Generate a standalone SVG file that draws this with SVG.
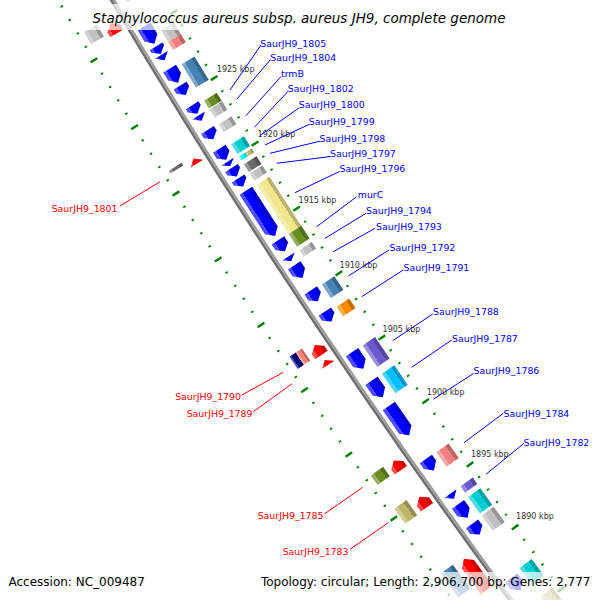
<svg xmlns="http://www.w3.org/2000/svg" width="600" height="600" viewBox="0 0 600 600">
<defs>
<linearGradient id="gBlue" x1="0" y1="0" x2="1" y2="0"><stop offset=".25" stop-color="#0000c7"/><stop offset=".25" stop-color="#0000ff"/><stop offset=".75" stop-color="#0000ff"/><stop offset=".75" stop-color="#4d4dff"/></linearGradient>
<linearGradient id="gRed" x1="0" y1="0" x2="1" y2="0"><stop offset=".25" stop-color="#c70000"/><stop offset=".25" stop-color="#ff0000"/><stop offset=".75" stop-color="#ff0000"/><stop offset=".75" stop-color="#ff4d4d"/></linearGradient>
<linearGradient id="gSilver" x1="0" y1="0" x2="1" y2="0"><stop offset=".25" stop-color="#969696"/><stop offset=".25" stop-color="#c0c0c0"/><stop offset=".75" stop-color="#c0c0c0"/><stop offset=".75" stop-color="#d3d3d3"/></linearGradient>
<linearGradient id="gDim" x1="0" y1="0" x2="1" y2="0"><stop offset=".25" stop-color="#525252"/><stop offset=".25" stop-color="#696969"/><stop offset=".75" stop-color="#696969"/><stop offset=".75" stop-color="#969696"/></linearGradient>
<linearGradient id="gSteel" x1="0" y1="0" x2="1" y2="0"><stop offset=".25" stop-color="#37658c"/><stop offset=".25" stop-color="#4682b4"/><stop offset=".75" stop-color="#4682b4"/><stop offset=".75" stop-color="#7ea8cb"/></linearGradient>
<linearGradient id="gOlive" x1="0" y1="0" x2="1" y2="0"><stop offset=".25" stop-color="#536f1b"/><stop offset=".25" stop-color="#6b8e23"/><stop offset=".75" stop-color="#6b8e23"/><stop offset=".75" stop-color="#97b065"/></linearGradient>
<linearGradient id="gCoral" x1="0" y1="0" x2="1" y2="0"><stop offset=".25" stop-color="#bb6464"/><stop offset=".25" stop-color="#f08080"/><stop offset=".75" stop-color="#f08080"/><stop offset=".75" stop-color="#f5a6a6"/></linearGradient>
<linearGradient id="gTurq" x1="0" y1="0" x2="1" y2="0"><stop offset=".25" stop-color="#00a1a3"/><stop offset=".25" stop-color="#00ced1"/><stop offset=".75" stop-color="#00ced1"/><stop offset=".75" stop-color="#4ddddf"/></linearGradient>
<linearGradient id="gCyan" x1="0" y1="0" x2="1" y2="0"><stop offset=".25" stop-color="#00c7c7"/><stop offset=".25" stop-color="#00ffff"/><stop offset=".75" stop-color="#00ffff"/><stop offset=".75" stop-color="#4dffff"/></linearGradient>
<linearGradient id="gKhaki" x1="0" y1="0" x2="1" y2="0"><stop offset=".25" stop-color="#bbb36d"/><stop offset=".25" stop-color="#f0e68c"/><stop offset=".75" stop-color="#f0e68c"/><stop offset=".75" stop-color="#f5eeaf"/></linearGradient>
<linearGradient id="gDkhaki" x1="0" y1="0" x2="1" y2="0"><stop offset=".25" stop-color="#938f53"/><stop offset=".25" stop-color="#bdb76b"/><stop offset=".75" stop-color="#bdb76b"/><stop offset=".75" stop-color="#d1cd97"/></linearGradient>
<linearGradient id="gOrange" x1="0" y1="0" x2="1" y2="0"><stop offset=".25" stop-color="#c76d00"/><stop offset=".25" stop-color="#ff8c00"/><stop offset=".75" stop-color="#ff8c00"/><stop offset=".75" stop-color="#ffaf4d"/></linearGradient>
<linearGradient id="gSlate" x1="0" y1="0" x2="1" y2="0"><stop offset=".25" stop-color="#5346a0"/><stop offset=".25" stop-color="#6a5acd"/><stop offset=".75" stop-color="#6a5acd"/><stop offset=".75" stop-color="#978cdc"/></linearGradient>
<linearGradient id="gSky" x1="0" y1="0" x2="1" y2="0"><stop offset=".25" stop-color="#0095c7"/><stop offset=".25" stop-color="#00bfff"/><stop offset=".75" stop-color="#00bfff"/><stop offset=".75" stop-color="#4dd2ff"/></linearGradient>
<linearGradient id="gNavy" x1="0" y1="0" x2="1" y2="0"><stop offset=".25" stop-color="#000064"/><stop offset=".25" stop-color="#000080"/><stop offset=".75" stop-color="#000080"/><stop offset=".75" stop-color="#4d4da6"/></linearGradient>
<linearGradient id="gSalmon" x1="0" y1="0" x2="1" y2="0"><stop offset=".25" stop-color="#c36459"/><stop offset=".25" stop-color="#fa8072"/><stop offset=".75" stop-color="#fa8072"/><stop offset=".75" stop-color="#fca69c"/></linearGradient>
</defs>
<style>
.blue{fill:url(#gBlue)} .red{fill:url(#gRed)} .silver{fill:url(#gSilver)} .dim{fill:url(#gDim)}
.steel{fill:url(#gSteel)} .olive{fill:url(#gOlive)} .coral{fill:url(#gCoral)} .turq{fill:url(#gTurq)}
.cyan{fill:url(#gCyan)} .khaki{fill:url(#gKhaki)} .dkhaki{fill:url(#gDkhaki)} .orange{fill:url(#gOrange)}
.slate{fill:url(#gSlate)} .sky{fill:url(#gSky)} .navy{fill:url(#gNavy)} .salmon{fill:url(#gSalmon)}
.tick{fill:none;stroke:#008000}
.tk{font-family:"DejaVu Sans",sans-serif;font-size:8px;fill:#333}
.lb{font-family:"DejaVu Sans",sans-serif;font-size:9.4px;fill:#0000ff}
.lr{font-family:"DejaVu Sans",sans-serif;font-size:9.4px;fill:#ff0000;text-anchor:end}
.cb{stroke:#0000ff;stroke-width:1;fill:none}
.cr{stroke:#ff0000;stroke-width:1;fill:none}
.veil{fill:#ffffff;fill-opacity:0.7}
.title{font-family:"DejaVu Sans",sans-serif;font-style:italic;font-size:13.5px;fill:#000;text-anchor:middle}
.foot{font-family:"DejaVu Sans",sans-serif;font-size:12px;fill:#000}
</style>
<rect x="0" y="0" width="600" height="600" fill="#ffffff"/>

<g id="backbone">
<circle cx="6297.6" cy="-3674.1" r="7195.3" fill="none" stroke="#6f6f6f" stroke-width="2.6"/>
<circle cx="6297.6" cy="-3674.1" r="7192.8" fill="none" stroke="#9c9c9c" stroke-width="2.4"/>
</g>

<g id="ruler">
<path class="tick" d="M607.27,651.14 A7147.5,7147.5 0 0 1 95.72,-121.18" stroke-width="2.6" stroke-dasharray="1.8 13.6502" stroke-dashoffset="0.9"/>
<path class="tick" d="M607.27,651.14 A7147.5,7147.5 0 0 1 95.72,-121.18" stroke-width="8" stroke-dasharray="2.4 74.851" stroke-dashoffset="1.2"/>
<path class="tick" d="M532.84,707.72 A7241,7241 0 0 1 14.58,-74.70" stroke-width="2.6" stroke-dasharray="1.8 13.8523" stroke-dashoffset="0.9"/>
<path class="tick" d="M532.84,707.72 A7241,7241 0 0 1 14.58,-74.70" stroke-width="8" stroke-dasharray="2.4 75.8615" stroke-dashoffset="1.2"/>
</g>

<g id="features" transform="translate(6297.6 -3674.1)">
<g id="RA1" transform="rotate(149.3721) translate(7180.5 0)"><polygon class="blue" points="-7.5,19 7.5,19 7.5,-12 0,-19 -7.5,-12"/></g>
<g id="RA2" transform="rotate(148.8984) translate(7180.5 0)"><polygon class="blue" points="-7.5,10.1 7.5,10.1 7.5,-3.1 0,-10.1 -7.5,-3.1"/></g>
<g id="RA3" transform="rotate(148.7572) translate(7180.5 0)"><polygon class="blue" points="-7.5,4.5 7.5,4.5 7.5,1.5 0,-4.5 -7.5,1.5"/></g>
<g id="RA4" transform="rotate(148.6878) translate(7180.5 0)"><polygon class="blue" points="-7.5,3.1 7.5,3.1 0,-3.1"/></g>
<g id="RA5" transform="rotate(148.5194) translate(7180.5 0)"><polygon class="blue" points="-7.5,8.25 7.5,8.25 7.5,-1.25 0,-8.25 -7.5,-1.25"/></g>
<g id="RA6" transform="rotate(148.3819) translate(7180.5 0)"><polygon class="blue" points="-7.5,5.5 7.5,5.5 7.5,0.5 0,-5.5 -7.5,0.5"/></g>
<g id="RA7" transform="rotate(148.2023) translate(7180.5 0)"><polygon class="blue" points="-7.5,5 7.5,5 7.5,1 0,-5 -7.5,1"/></g>
<g id="RA8" transform="rotate(148.1212) translate(7180.5 0)"><polygon class="blue" points="-7.5,3 7.5,3 0,-3"/></g>
<g id="RA9" transform="rotate(147.9657) translate(7180.5 0)"><polygon class="blue" points="-7.5,5.5 7.5,5.5 7.5,0.5 0,-5.5 -7.5,0.5"/></g>
<g id="RA10" transform="rotate(147.7800) translate(7180.5 0)"><polygon class="blue" points="-7.5,6.5 7.5,6.5 7.5,-0.5 0,-6.5 -7.5,-0.5"/></g>
<g id="RA11" transform="rotate(147.6908) translate(7180.5 0)"><polygon class="blue" points="-7.5,2.5 7.5,2.5 0,-2.5"/></g>
<g id="RA12" transform="rotate(147.6103) translate(7180.5 0)"><polygon class="blue" points="-7.5,5 7.5,5 7.5,1 0,-5 -7.5,1"/></g>
<g id="RA13" transform="rotate(147.5143) translate(7180.5 0)"><polygon class="blue" points="-7.5,4.75 7.5,4.75 7.5,1.25 0,-4.75 -7.5,1.25"/></g>
<g id="RA14" transform="rotate(147.2208) translate(7180.5 0)"><polygon class="blue" points="-7.5,26.95 7.5,26.95 7.5,-19.95 0,-26.95 -7.5,-19.95"/></g>
<g id="RA15" transform="rotate(146.9130) translate(7180.5 0)"><polygon class="blue" points="-7.5,6.5 7.5,6.5 7.5,-0.5 0,-6.5 -7.5,-0.5"/></g>
<g id="RA16" transform="rotate(146.7898) translate(7180.5 0)"><polygon class="blue" points="-7.5,2.7 7.5,2.7 0,-2.7"/></g>
<g id="RA17" transform="rotate(146.6665) translate(7180.5 0)"><polygon class="blue" points="-7.5,7.6 7.5,7.6 7.5,-0.6 0,-7.6 -7.5,-0.6"/></g>
<g id="RA18" transform="rotate(146.4356) translate(7180.5 0)"><polygon class="blue" points="-7.5,6.5 7.5,6.5 7.5,-0.5 0,-6.5 -7.5,-0.5"/></g>
<g id="RA19" transform="rotate(146.2368) translate(7180.5 0)"><polygon class="blue" points="-7.5,6 7.5,6 7.5,0 0,-6 -7.5,0"/></g>
<g id="RA20" transform="rotate(145.8144) translate(7180.5 0)"><polygon class="blue" points="-7.5,10.1 7.5,10.1 7.5,-3.1 0,-10.1 -7.5,-3.1"/></g>
<g id="RA21" transform="rotate(145.5389) translate(7180.5 0)"><polygon class="blue" points="-7.5,10 7.5,10 7.5,-3 0,-10 -7.5,-3"/></g>
<g id="RA22" transform="rotate(145.2323) translate(7180.5 0)"><polygon class="blue" points="-7.5,17.85 7.5,17.85 7.5,-10.85 0,-17.85 -7.5,-10.85"/></g>
<g id="RA23" transform="rotate(144.8026) translate(7180.5 0)"><polygon class="blue" points="-7.5,7 7.5,7 7.5,0 0,-7 -7.5,0"/></g>
<g id="RA24" transform="rotate(144.4954) translate(7180.5 0)"><polygon class="blue" points="-7.5,3.1 7.5,3.1 0,-3.1"/></g>
<g id="RA25" transform="rotate(144.3493) translate(7180.5 0)"><polygon class="blue" points="-7.5,8.25 7.5,8.25 7.5,-1.25 0,-8.25 -7.5,-1.25"/></g>
<g id="RA26" transform="rotate(144.1703) translate(7180.5 0)"><polygon class="blue" points="-7.5,6.5 7.5,6.5 7.5,-0.5 0,-6.5 -7.5,-0.5"/></g>
<g id="RA27" transform="rotate(143.6284) translate(7180.5 0)"><polygon class="blue" points="-7.5,7.75 7.5,7.75 7.5,-0.75 0,-7.75 -7.5,-0.75"/></g>

<g id="RB1" transform="rotate(148.8309) translate(7160.5 0)"><rect class="silver" x="-7.5" y="-7.05" width="15" height="14.1"/></g>
<g id="RB2" transform="rotate(148.7361) translate(7160.5 0)"><rect class="coral" x="-7.5" y="-4.8" width="15" height="9.6"/></g>
<g id="RB3" transform="rotate(148.4550) translate(7160.5 0)"><rect class="steel" x="-7.5" y="-13.65" width="15" height="27.3"/></g>
<g id="RB4" transform="rotate(148.1862) translate(7160.5 0)"><rect class="olive" x="-7.5" y="-4.65" width="15" height="9.3"/></g>
<g id="RB5" transform="rotate(148.1026) translate(7160.5 0)"><rect class="silver" x="-7.5" y="-5.05" width="15" height="10.1"/></g>
<g id="RB6" transform="rotate(147.9633) translate(7160.5 0)"><rect class="silver" x="-7.5" y="-4.65" width="15" height="9.3"/></g>
<g id="RB7" transform="rotate(147.7670) translate(7160.5 0)"><rect class="turq" x="-7.5" y="-5.8" width="15" height="11.6"/></g>
<g id="RB8" transform="rotate(147.6784) translate(7160.5 0)"><rect class="cyan" x="0" y="-2.35" width="7.5" height="4.7"/><rect class="dkhaki" x="-7.5" y="-2.35" width="7.5" height="4.7"/></g>
<g id="RB9" transform="rotate(147.5868) translate(7160.5 0)"><rect class="dim" x="-7.5" y="-4.65" width="15" height="9.3"/></g>
<g id="RB10" transform="rotate(147.5019) translate(7160.5 0)"><rect class="silver" x="-7.5" y="-4.25" width="15" height="8.5"/></g>
<g id="RB11" transform="rotate(147.1941) translate(7160.5 0)"><rect class="khaki" x="-7.5" y="-29.35" width="15" height="58.7"/></g>
<g id="RB12" transform="rotate(146.8994) translate(7160.5 0)"><rect class="olive" x="-7.5" y="-7.6" width="15" height="15.2"/></g>
<g id="RB13" transform="rotate(146.7743) translate(7160.5 0)"><rect class="silver" x="-7.5" y="-3.9" width="15" height="7.8"/></g>
<g id="RB14" transform="rotate(146.4120) translate(7160.5 0)"><rect class="steel" x="-7.5" y="-8.15" width="15" height="16.3"/></g>
<g id="RB15" transform="rotate(146.2176) translate(7160.5 0)"><rect class="orange" x="-7.5" y="-5.8" width="15" height="11.6"/></g>
<g id="RB16" transform="rotate(145.7878) translate(7160.5 0)"><rect class="slate" x="-7.5" y="-12.95" width="15" height="25.9"/></g>
<g id="RB17" transform="rotate(145.5234) translate(7160.5 0)"><rect class="sky" x="-7.5" y="-11.8" width="15" height="23.6"/></g>
<g id="RB18" transform="rotate(144.7840) translate(7160.5 0)"><rect class="coral" x="-7.5" y="-8.85" width="15" height="17.7"/></g>
<g id="RB19" transform="rotate(144.4892) translate(7160.5 0)"><rect class="slate" x="-7.5" y="-3.9" width="15" height="7.8"/></g>
<g id="RB20" transform="rotate(144.3344) translate(7160.5 0)"><rect class="turq" x="-7.5" y="-10.1" width="15" height="20.2"/></g>
<g id="RB21" transform="rotate(144.1573) translate(7160.5 0)"><rect class="silver" x="-7.5" y="-9.45" width="15" height="18.9"/></g>
<g id="RB22" transform="rotate(143.6346) translate(7160.5 0)"><rect class="turq" x="-7.5" y="-10.1" width="15" height="20.2"/></g>
<g id="RB23" transform="rotate(143.3622) translate(7160.5 0)"><rect class="dkhaki" x="-7.5" y="-8.55" width="15" height="17.1"/></g>

<g id="LA1" transform="rotate(149.0903) translate(7207.5 0)"><polygon class="red" points="-7.5,-6 7.5,-6 7.5,0 0,6 -7.5,0"/></g>
<g id="LA2" transform="rotate(147.8518) translate(7207.5 0)"><polygon class="red" points="-7.5,-3.1 7.5,-3.1 0,3.1"/></g>
<g id="LA3" transform="rotate(146.0597) translate(7207.5 0)"><polygon class="red" points="-7.5,-6 7.5,-6 7.5,0 0,6 -7.5,0"/></g>
<g id="LA4" transform="rotate(145.9414) translate(7207.5 0)"><polygon class="red" points="-7.5,-3 7.5,-3 0,3"/></g>
<g id="LA5" transform="rotate(144.9475) translate(7207.5 0)"><polygon class="red" points="-7.5,-6 7.5,-6 7.5,0 0,6 -7.5,0"/></g>
<g id="LA6" transform="rotate(144.5914) translate(7207.5 0)"><polygon class="red" points="-7.5,-6.5 7.5,-6.5 7.5,0.5 0,6.5 -7.5,0.5"/></g>
<g id="LA7" transform="rotate(143.8823) translate(7207.5 0)"><polygon class="red" points="-7.5,-19.4 7.5,-19.4 7.5,12.4 0,19.4 -7.5,12.4"/></g>

<g id="LB1" transform="rotate(149.1300) translate(7227.5 0)"><rect class="silver" x="-7.5" y="-7" width="15" height="14"/></g>
<g id="LB2" transform="rotate(147.8852) translate(7227.5 0)"><rect class="dim" x="-7.5" y="-1.55" width="15" height="3.1"/></g>
<g id="LB3" transform="rotate(146.0838) translate(7227.5 0)"><rect class="navy" x="0" y="-7.35" width="7.5" height="14.7"/><rect class="salmon" x="-7.5" y="-7.35" width="7.5" height="14.7"/></g>
<g id="LB4" transform="rotate(144.9568) translate(7227.5 0)"><rect class="olive" x="-7.5" y="-5.8" width="15" height="11.6"/></g>
<g id="LB5" transform="rotate(144.6069) translate(7227.5 0)"><rect class="dkhaki" x="-7.5" y="-9.3" width="15" height="18.6"/></g>
<g id="LB6" transform="rotate(143.9319) translate(7227.5 0)"><rect class="steel" x="-7.5" y="-14.75" width="15" height="29.5"/></g>
</g>

<g id="ruler-labels">
<text class="tk" x="216.8" y="71.5">1925 kbp</text>
<text class="tk" x="257.6" y="137">1920 kbp</text>
<text class="tk" x="298.6" y="203.3">1915 kbp</text>
<text class="tk" x="339.6" y="267.5">1910 kbp</text>
<text class="tk" x="382.6" y="331.5">1905 kbp</text>
<text class="tk" x="426.8" y="395">1900 kbp</text>
<text class="tk" x="471" y="456.8">1895 kbp</text>
<text class="tk" x="516.1" y="519.3">1890 kbp</text>
</g>

<g id="connectors">
<line class="cb" x1="261" y1="45" x2="230" y2="90"/>
<line class="cb" x1="270.5" y1="59.5" x2="236.7" y2="99.3"/>
<line class="cb" x1="281" y1="76.5" x2="246" y2="115.7"/>
<line class="cb" x1="288.3" y1="91" x2="254.4" y2="127.3"/>
<line class="cb" x1="299.3" y1="107.7" x2="259.7" y2="135.8"/>
<line class="cb" x1="309.3" y1="124.3" x2="265" y2="145"/>
<line class="cb" x1="320" y1="141.2" x2="270" y2="153.3"/>
<line class="cb" x1="330.5" y1="156.5" x2="276.7" y2="163.3"/>
<line class="cb" x1="339.5" y1="171.5" x2="295" y2="192.7"/>
<line class="cb" x1="356.7" y1="196.7" x2="316.7" y2="226.7"/>
<line class="cb" x1="366" y1="213.3" x2="325" y2="238.3"/>
<line class="cb" x1="375" y1="228.3" x2="333.3" y2="251.7"/>
<line class="cb" x1="389" y1="250" x2="348.3" y2="276"/>
<line class="cb" x1="403.3" y1="270" x2="361.7" y2="296.7"/>
<line class="cb" x1="432.7" y1="314" x2="392.7" y2="340.7"/>
<line class="cb" x1="451.7" y1="340" x2="411.7" y2="367.3"/>
<line class="cb" x1="473.5" y1="373.5" x2="433.3" y2="399.3"/>
<line class="cb" x1="503.3" y1="413.3" x2="464" y2="442.7"/>
<line class="cb" x1="524" y1="443.3" x2="486" y2="474.3"/>
<line class="cr" x1="120" y1="206" x2="160" y2="181.7"/>
<line class="cr" x1="241.7" y1="395" x2="283.3" y2="372.3"/>
<line class="cr" x1="253.3" y1="411.7" x2="291.7" y2="384"/>
<line class="cr" x1="324.3" y1="514" x2="362.7" y2="487.3"/>
<line class="cr" x1="350" y1="549.3" x2="388.3" y2="522.7"/>
</g>

<g id="labels">
<text class="lb" x="260.3" y="46.5">SaurJH9_1805</text>
<text class="lb" x="270.3" y="60.5">SaurJH9_1804</text>
<text class="lb" x="281" y="76.5">trmB</text>
<text class="lb" x="287.8" y="91.5">SaurJH9_1802</text>
<text class="lb" x="298.8" y="108">SaurJH9_1800</text>
<text class="lb" x="308.8" y="125">SaurJH9_1799</text>
<text class="lb" x="319.5" y="141.5">SaurJH9_1798</text>
<text class="lb" x="330" y="157">SaurJH9_1797</text>
<text class="lb" x="339.5" y="171.5">SaurJH9_1796</text>
<text class="lb" x="357.8" y="198">murC</text>
<text class="lb" x="366" y="214">SaurJH9_1794</text>
<text class="lb" x="376" y="230">SaurJH9_1793</text>
<text class="lb" x="389.5" y="251">SaurJH9_1792</text>
<text class="lb" x="403.5" y="270.5">SaurJH9_1791</text>
<text class="lb" x="433" y="315">SaurJH9_1788</text>
<text class="lb" x="452" y="341.5">SaurJH9_1787</text>
<text class="lb" x="473.5" y="374">SaurJH9_1786</text>
<text class="lb" x="503.5" y="416.5">SaurJH9_1784</text>
<text class="lb" x="523.5" y="445.5">SaurJH9_1782</text>
<text class="lr" x="117.5" y="211.5">SaurJH9_1801</text>
<text class="lr" x="241" y="400">SaurJH9_1790</text>
<text class="lr" x="252.5" y="417">SaurJH9_1789</text>
<text class="lr" x="323.5" y="519">SaurJH9_1785</text>
<text class="lr" x="348.5" y="554.5">SaurJH9_1783</text>
</g>

<g id="title">
<rect class="veil" x="87" y="4" width="425" height="26"/>
<text class="title" x="299" y="23">Staphylococcus aureus subsp. aureus JH9, complete genome</text>
</g>
<g id="legend">
<rect class="veil" x="3" y="572" width="147" height="28"/>
<rect class="veil" x="255" y="572" width="342" height="28"/>
<text class="foot" x="8.5" y="586">Accession: NC_009487</text>
<text class="foot" x="590.5" y="586" text-anchor="end">Topology: circular; Length: 2,906,700 bp; Genes: 2,777</text>
</g>
</svg>
